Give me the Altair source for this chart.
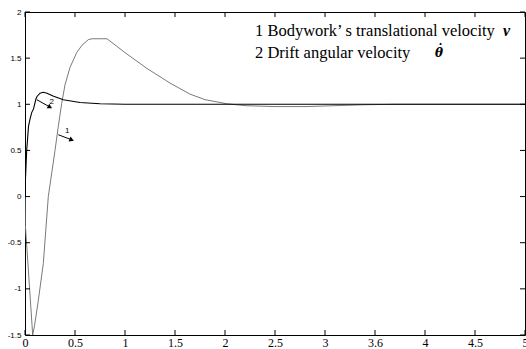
import altair as alt
import pandas as pd

# Curve 1: bodywork translational velocity
v_t = [0, 0.003, 0.077, 0.095, 0.13, 0.183, 0.233, 0.30, 0.333, 0.367, 0.40, 0.45, 0.517,
       0.57, 0.633, 0.67, 0.82, 1.0, 1.217, 1.45, 1.65, 1.8, 2.017, 2.2, 2.5, 2.8, 3.1, 3.4, 3.7, 5.0]
v_y = [0, -0.3, -1.5, -1.4, -1.15, -0.725, 0.0, 0.5, 0.76, 1.01, 1.21, 1.4, 1.56,
       1.64, 1.70, 1.71, 1.71, 1.56, 1.39, 1.23, 1.11, 1.05, 1.006, 0.985, 0.975, 0.975, 0.985, 0.995, 1.0, 1.0]

# Curve 2: drift angular velocity
w_t = [0, 0.005, 0.017, 0.035, 0.05, 0.067, 0.085, 0.11, 0.12, 0.15, 0.183, 0.22, 0.28,
       0.383, 0.55, 0.75, 1.0, 5.0]
w_y = [0, 0.2, 0.5, 0.76, 0.84, 0.91, 0.95, 1.06, 1.085, 1.12, 1.13, 1.12, 1.09,
       1.05, 1.02, 1.005, 1.0, 1.0]

xtick_vals = [0, 0.5, 1, 1.5, 2, 2.5, 3, 3.5, 4, 4.5, 5]
xtick_labels = ["0", "0.5", "1", "1.5", "2", "2.5", "3", "3.6", "4", "4.5", "5"]
ytick_vals = [-1.5, -1, -0.5, 0, 0.5, 1, 1.5, 2]

# annotation arrows (curve number labels)
ann_label = ["2", "1"]
ann_x = [0.117, 0.333]
ann_y = [1.05, 0.67]
ann_x2 = [0.25, 0.467]
ann_y2 = [0.97, 0.615]
ann_lx = [0.267, 0.423]
ann_ly = [1.03, 0.713]
ann_angle = [29, 21]

legend_lines = ["1 Bodywork\u2019 s translational velocity", "2 Drift angular velocity"]
legend_syms = ["v", "\u03b8"]
dot_sym = ["\u02d9"]

W, H = 500, 323
XMIN, XMAX, YMIN, YMAX = 0, 5, -1.5, 2
xs = alt.Scale(domain=[XMIN, XMAX], nice=False, zero=False)
ys = alt.Scale(domain=[YMIN, YMAX], nice=False, zero=False)

TICK_PX = 5
dx = TICK_PX * (XMAX - XMIN) / W
dy = TICK_PX * (YMAX - YMIN) / H

label_expr = " : ".join(f"datum.value == {v} ? '{l}'" for v, l in zip(xtick_vals, xtick_labels)) + " : datum.label"

df1 = pd.DataFrame({"t": v_t, "y": v_y})
df2 = pd.DataFrame({"t": w_t, "y": w_y})

xaxis = alt.Axis(values=xtick_vals, labelExpr=label_expr, tickSize=0, domain=False, grid=False,
                 title=None, labelFont="Liberation Serif", labelFontSize=12, labelPadding=2,
                 labelColor="black", labelFlush=False)
yaxis = alt.Axis(values=ytick_vals, labelExpr="toString(datum.value)", tickSize=0, domain=False,
                 grid=False, title=None, labelFont="Liberation Sans", labelFontSize=8,
                 labelPadding=4, labelColor="black", labelFlush=False)

line1 = alt.Chart(df1).mark_line(color="#7a7a7a", strokeWidth=1, clip=True).encode(
    x=alt.X("t:Q", scale=xs, axis=xaxis),
    y=alt.Y("y:Q", scale=ys, axis=yaxis),
)
line2 = alt.Chart(df2).mark_line(color="black", strokeWidth=1.1, clip=True).encode(
    x=alt.X("t:Q", scale=xs),
    y=alt.Y("y:Q", scale=ys),
)

# inward tick marks on all four sides of the frame
xt = pd.DataFrame({"tv": xtick_vals, "lo": YMIN, "lo2": YMIN + dy, "hi": YMAX, "hi2": YMAX - dy})
yt = pd.DataFrame({"yv": ytick_vals, "le": XMIN, "le2": XMIN + dx, "ri": XMAX, "ri2": XMAX - dx})
tick_bot = alt.Chart(xt).mark_rule(color="black", strokeWidth=1).encode(
    x=alt.X("tv:Q", scale=xs), y=alt.Y("lo:Q", scale=ys), y2="lo2:Q")
tick_top = alt.Chart(xt).mark_rule(color="black", strokeWidth=1).encode(
    x=alt.X("tv:Q", scale=xs), y=alt.Y("hi:Q", scale=ys), y2="hi2:Q")
tick_left = alt.Chart(yt).mark_rule(color="black", strokeWidth=1).encode(
    y=alt.Y("yv:Q", scale=ys), x=alt.X("le:Q", scale=xs), x2="le2:Q")
tick_right = alt.Chart(yt).mark_rule(color="black", strokeWidth=1).encode(
    y=alt.Y("yv:Q", scale=ys), x=alt.X("ri:Q", scale=xs), x2="ri2:Q")

ann = pd.DataFrame({"label": ann_label, "x": ann_x, "y": ann_y, "x2": ann_x2, "y2": ann_y2,
                    "lx": ann_lx, "ly": ann_ly, "angle": ann_angle})
arrows = alt.Chart(ann).mark_rule(color="black", strokeWidth=1).encode(
    x=alt.X("x:Q", scale=xs), y=alt.Y("y:Q", scale=ys), x2="x2:Q", y2="y2:Q")
heads = alt.Chart(ann).mark_point(shape="triangle-right", filled=True, color="black",
                                  size=28, opacity=1).encode(
    x=alt.X("x2:Q", scale=xs), y=alt.Y("y2:Q", scale=ys), angle=alt.Angle("angle:Q", scale=None))
labels = alt.Chart(ann).mark_text(font="Liberation Sans", fontSize=8, color="black").encode(
    x=alt.X("lx:Q", scale=xs), y=alt.Y("ly:Q", scale=ys), text="label:N")

leg = pd.DataFrame({"txt": legend_lines, "sym": legend_syms})
leg1 = alt.Chart(leg).transform_filter(alt.datum.txt == legend_lines[0]).mark_text(
    font="Liberation Serif", fontSize=16.5, align="left", baseline="alphabetic", color="black"
).encode(x=alt.value(230), y=alt.value(23.5), text="txt:N")
leg2 = alt.Chart(leg).transform_filter(alt.datum.txt == legend_lines[1]).mark_text(
    font="Liberation Serif", fontSize=16.5, align="left", baseline="alphabetic", color="black"
).encode(x=alt.value(230), y=alt.value(45.5), text="txt:N")
sym1 = alt.Chart(leg).transform_filter(alt.datum.txt == legend_lines[0]).mark_text(
    font="Liberation Serif", fontSize=16, fontStyle="italic", fontWeight="bold",
    align="left", baseline="alphabetic", color="black"
).encode(x=alt.value(478), y=alt.value(23.5), text="sym:N")
sym2 = alt.Chart(leg).transform_filter(alt.datum.txt == legend_lines[1]).mark_text(
    font="DejaVu Serif", fontSize=12, fontStyle="italic", fontWeight="bold",
    align="left", baseline="alphabetic", color="black"
).encode(x=alt.value(410), y=alt.value(44.5), text="sym:N")
dot = alt.Chart(pd.DataFrame({"d": dot_sym})).mark_text(
    font="DejaVu Serif", fontSize=14, fontWeight="bold",
    align="left", baseline="alphabetic", color="black"
).encode(x=alt.value(412), y=alt.value(43), text="d:N")

chart = alt.layer(line1, line2, tick_bot, tick_top, tick_left, tick_right,
                  arrows, heads, labels, leg1, leg2, sym1, sym2, dot).properties(
    width=W, height=H,
    autosize=alt.AutoSizeParams(type="none"),
    padding={"left": 25, "top": 12, "right": 1, "bottom": 14},
    background="white",
).configure_view(stroke="black", strokeWidth=1)

chart.save("out.html", embed_options={"renderer": "svg", "actions": False})
